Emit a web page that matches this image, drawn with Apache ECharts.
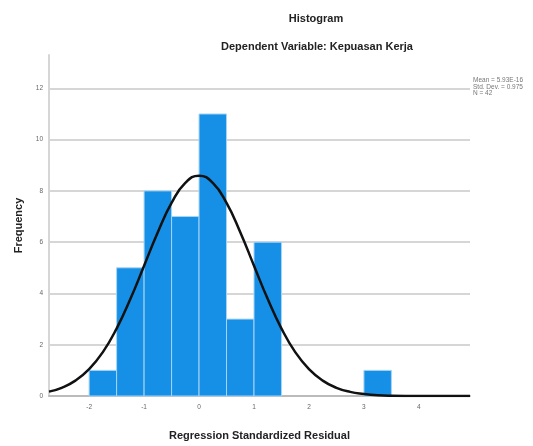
<!DOCTYPE html>
<html>
<head>
<meta charset="utf-8">
<script src="https://cdn.jsdelivr.net/npm/echarts@6/dist/echarts.min.js"></script>
<style>
html,body{margin:0;padding:0;background:#fff;}
#chart{width:533px;height:446px;}
</style>
</head>
<body>
<div id="chart"></div>
<script>
// histogram bins (width 0.5) and counts
var binStart = [-2, -1.5, -1, -0.5, 0, 0.5, 1, 3];
var binEnd   = [-1.5, -1, -0.5, 0, 0.5, 1, 1.5, 3.5];
var counts   = [1, 5, 8, 7, 11, 3, 6, 1];

// normal curve
var curveX = [-2.73, -2.5, -2.25, -2, -1.75, -1.5, -1.25, -1, -0.75, -0.5, -0.25, 0, 0.25, 0.5, 0.75, 1, 1.25, 1.5, 1.75, 2, 2.25, 2.5, 2.75, 3, 3.25, 3.5, 4, 4.5, 4.93];
var curveY = [0.17, 0.32, 0.6, 1.05, 1.71, 2.63, 3.78, 5.08, 6.39, 7.53, 8.31, 8.59, 8.31, 7.53, 6.39, 5.08, 3.78, 2.63, 1.71, 1.05, 0.6, 0.32, 0.16, 0.08, 0.03, 0.01, 0, 0, 0];

var xTicks = [-2, -1, 0, 1, 2, 3, 4];
var statLines = ['Mean = 5.93E-16', 'Std. Dev. = 0.975', 'N = 42'];

var myChart = echarts.init(document.getElementById('chart'));
var option;

var binData = [];
for (var i = 0; i < counts.length; i++) {
    binData.push([binStart[i], binEnd[i], counts[i]]);
}
var curveData = [];
for (var j = 0; j < curveX.length; j++) {
    curveData.push([curveX[j], curveY[j]]);
}

var boldText = { fontFamily: 'Liberation Sans', fontSize: 11, fontWeight: 'bold', color: '#222' };

option = {
    animation: false,
    textStyle: { fontFamily: 'Liberation Sans' },
    title: [
        {
            text: 'Histogram',
            left: 311, top: 8, textAlign: 'center',
            textStyle: boldText
        },
        {
            text: 'Dependent Variable: Kepuasan Kerja',
            left: 312, top: 36, textAlign: 'center',
            textStyle: boldText
        }
    ],
    graphic: [
        {
            type: 'text',
            left: 473, top: 77,
            style: {
                text: statLines.join('\n'),
                fontSize: 6.5,
                lineHeight: 6.5,
                fill: '#777',
                fontFamily: 'Liberation Sans'
            }
        }
    ],
    grid: {
        left: 49,
        right: 63,
        top: 55,
        bottom: 48
    },
    xAxis: {
        type: 'value',
        min: -2.73,
        max: 4.93,
        name: 'Regression Standardized Residual',
        nameLocation: 'middle',
        nameGap: 34,
        nameTextStyle: boldText,
        axisLine: { onZero: false, lineStyle: { color: '#bbb', width: 2 } },
        axisTick: { show: false },
        axisLabel: {
            customValues: xTicks,
            fontSize: 6.5,
            color: '#666',
            margin: 8
        },
        splitLine: { show: false }
    },
    yAxis: {
        type: 'value',
        min: 0,
        max: 13.3,
        interval: 2,
        name: 'Frequency',
        nameLocation: 'middle',
        nameGap: 25,
        nameRotate: 90,
        nameTextStyle: boldText,
        axisLine: { show: true, onZero: false, lineStyle: { color: '#d6d6d6', width: 2 } },
        axisTick: { show: false },
        axisLabel: {
            showMaxLabel: false,
            fontSize: 6.5,
            color: '#666',
            margin: 6
        },
        splitLine: {
            show: true,
            showMinLine: false,
            showMaxLine: false,
            lineStyle: { color: '#d6d6d6', width: 2 }
        }
    },
    series: [
        {
            name: 'Frequency',
            type: 'custom',
            data: binData,
            encode: { x: [0, 1], y: 2 },
            renderItem: function (params, api) {
                var p0 = api.coord([api.value(0), api.value(2)]);
                var p1 = api.coord([api.value(1), 0]);
                return {
                    type: 'rect',
                    shape: { x: p0[0], y: p0[1], width: p1[0] - p0[0], height: p1[1] - p0[1] },
                    style: { fill: '#1590e6', stroke: '#a8d4f5', lineWidth: 1 }
                };
            }
        },
        {
            name: 'Normal',
            type: 'line',
            data: curveData,
            smooth: true,
            showSymbol: false,
            lineStyle: { color: '#111', width: 2.5 },
            z: 5
        }
    ]
};
myChart.setOption(option);
</script>
</body>
</html>
